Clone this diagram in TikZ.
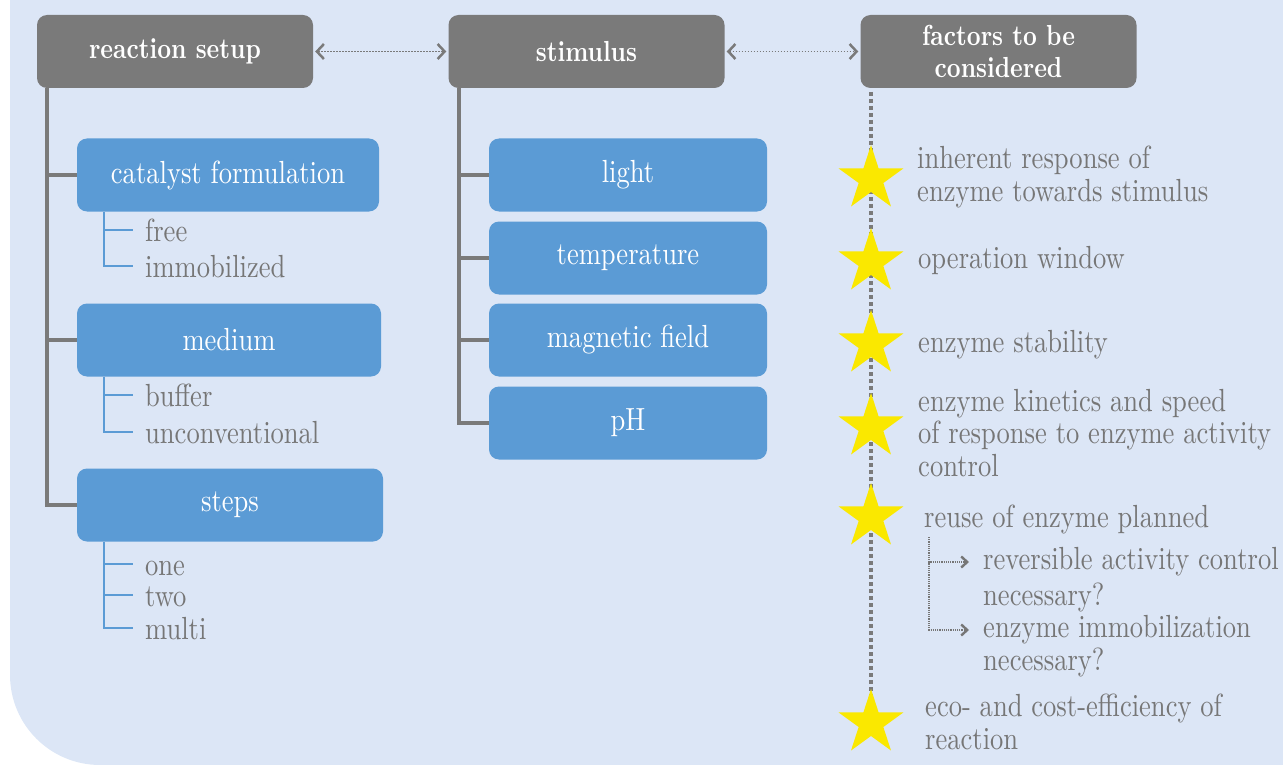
\documentclass[tikz,border=0pt]{standalone}
\usepackage{fontspec}
\setmainfont{lmroman10}[Extension=.otf, UprightFont=*-regular, BoldFont=*-bold, ItalicFont=*-italic, FakeStretch=0.83]
\usepackage{tikz}
\usetikzlibrary{shapes.geometric,arrows.meta,positioning}
\definecolor{bgblue}{RGB}{220,230,246}
\definecolor{hdrgray}{RGB}{122,122,122}
\definecolor{boxblue}{RGB}{91,155,213}
\definecolor{txtgray}{RGB}{118,118,118}
\definecolor{staryellow}{RGB}{250,232,0}
\setlength{\lineskiplimit}{-30pt}

\begin{document}
\begin{tikzpicture}[x=1pt,y=-1pt,
		hdr/.style={fill=hdrgray, rounded corners=10pt, text=white, font=\fontsize{29}{32}\selectfont\bfseries, minimum width=276pt, minimum height=73pt, inner sep=0pt, align=center},
		cat/.style={fill=boxblue, rounded corners=10pt, text=white, font=\fontsize{32}{33}\selectfont, minimum height=73pt, inner sep=0pt},
		item/.style={text=txtgray, font=\fontsize{32}{33}\selectfont, inner xsep=12pt, inner ysep=0pt, text height=22pt, text depth=0pt, anchor=west},
		fact/.style={text=txtgray, font=\fontsize{32}{32.5}\selectfont, inner sep=0pt, anchor=west, align=left},
		trunk/.style={draw=hdrgray, line width=4pt},
		twig/.style={draw=boxblue, line width=2pt},
		spine/.style={draw=hdrgray, line width=4pt, dash pattern=on 4pt off 3pt},
		fivestar/.style={star, star points=5, star point ratio=2.618, minimum size=68pt, inner sep=0pt, fill=staryellow},
		link/.style={draw=hdrgray, line width=1.8pt, dash pattern=on 1.8pt off 1.2pt, {Straight Barb[length=7pt,width=15pt,line width=2.5pt]}-{Straight Barb[length=7pt,width=15pt,line width=2.5pt]}, shorten <=2pt, shorten >=2pt},
		subarr/.style={draw=txtgray, line width=1.2pt, dash pattern=on 1.2pt off 1pt, -{Straight Barb[length=6pt,width=11pt,line width=2.4pt]}, shorten >=14pt}]
	\useasboundingbox (0,0) rectangle (1283,765);
	% backdrop, round corner bottom left
	\fill[bgblue] (1283,0) -- (10,0) -- (10,675) arc (180:90:90) -- (1283,765) -- cycle;

	% headers
	\node[hdr] (rs) at (175,51.5) {reaction setup};
	\node[hdr] (stim) at (586.5,51.5) {stimulus};
	\node[hdr] (fac) at (998.5,51.5) {factors to be\\considered};
	\draw[link] (rs.east) -- (stim.west);
	\draw[link] (stim.east) -- (fac.west);

	% reaction setup
	\node[cat, minimum width=302pt] (catf) at (228,175) {catalyst formulation};
	\node[cat, minimum width=304pt] (med) at (229,340) {medium};
	\node[cat, minimum width=306pt] (steps) at (230,505) {steps};
	\coordinate (rsroot) at (47,88);
	\draw[trunk] (rsroot) |- (steps.west);
	\draw[trunk] (rsroot |- catf.west) -- (catf.west);
	\draw[trunk] (rsroot |- med.west) -- (med.west);

	% west anchor of an item lies 11pt over its baseline
	\node[item] (free) at (133,230) {free};
	\node[item] (immob) at (133,266) {immobilized};
	\node[item] (buffer) at (133,395) {buffer};
	\node[item] (unconv) at (133,432) {unconventional};
	\node[item] (one) at (133,564) {one};
	\node[item] (two) at (133,595) {two};
	\node[item] (multi) at (133,628) {multi};
	\coordinate (catsub) at ([xshift=27pt]catf.south west);
	\coordinate (medsub) at ([xshift=27pt]med.south west);
	\coordinate (stepsub) at ([xshift=27pt]steps.south west);
	\draw[twig] (catsub) |- (immob.west);
	\draw[twig] (catsub |- free.west) -- (free.west);
	\draw[twig] (medsub) |- (unconv.west);
	\draw[twig] (medsub |- buffer.west) -- (buffer.west);
	\draw[twig] (stepsub) |- (multi.west);
	\draw[twig] (stepsub |- one.west) -- (one.west);
	\draw[twig] (stepsub |- two.west) -- (two.west);

	% stimulus
	\node[cat, minimum width=278pt] (light) at (628,175) {light};
	\node[cat, minimum width=278pt] (temp) at (628,258) {temperature};
	\node[cat, minimum width=278pt] (mag) at (628,340) {magnetic field};
	\node[cat, minimum width=278pt] (ph) at (628,423) {pH};
	\coordinate (stroot) at (459,88);
	\draw[trunk] (stroot) |- (ph.west);
	\draw[trunk] (stroot |- light.west) -- (light.west);
	\draw[trunk] (stroot |- temp.west) -- (temp.west);
	\draw[trunk] (stroot |- mag.west) -- (mag.west);

	% factors
	\coordinate (spinetop) at (871,92);
	\coordinate (spinebot) at (871,700);
	\draw[spine] (spinetop) -- (spinebot);
	\node[fivestar] (st1) at (871,179) {};
	\node[fivestar] (st2) at (871,262) {};
	\node[fivestar] (st3) at (871,344) {};
	\node[fivestar] (st4) at (871,427) {};
	\node[fivestar] (st5) at (871,517) {};
	\node[fivestar] (st6) at (871,723) {};

	\node[fact] (f1) at (917,177) {inherent response of\\enzyme towards stimulus};
	\node[fact] (f2) at (918,260) {operation window};
	\node[fact] (f3) at (918,345) {enzyme stability};
	\node[fact] (f4) at (918,433) {enzyme kinetics and speed\\of response to enzyme activity\\control};
	\node[fact] (f5) at (924,519) {reuse of enzyme planned};
	\node[fact] (rev) at (983,562) {reversible activity control};
	\node[fact] (revq) at (983,597) {necessary?};
	\node[fact] (immz) at (983,630) {enzyme immobilization};
	\node[fact] (immzq) at (983,662) {necessary?};
	\node[fact] (f6) at (925,722) {eco- and cost-efficiency of\\reaction};
	\coordinate (reusefork) at (929,537);
	\draw[subarr] (reusefork) |- (rev.west);
	\draw[subarr] (reusefork) |- (immz.west);
\end{tikzpicture}
\end{document}
